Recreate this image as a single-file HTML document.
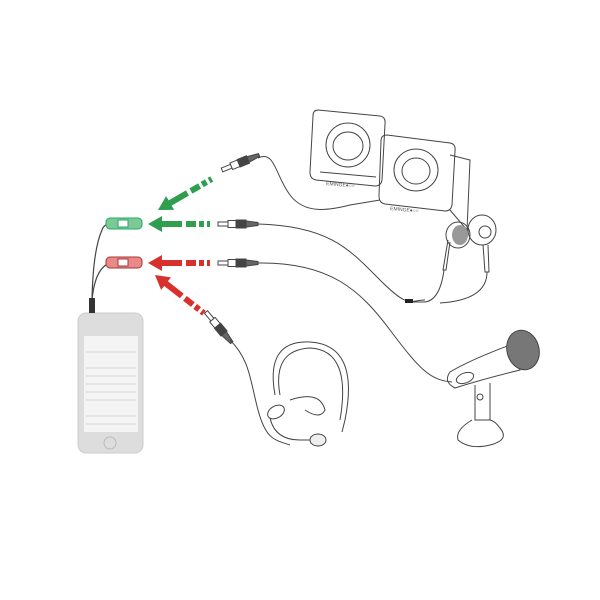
<!DOCTYPE html>
<html><head><meta charset="utf-8"><style>html,body{margin:0;padding:0;background:#fff}svg{display:block}</style></head>
<body>
<svg width="600" height="600" viewBox="0 0 600 600" xmlns="http://www.w3.org/2000/svg" fill="none" stroke="#444" stroke-width="1">
<defs>
<g id="plug"><rect x="0" y="-2" width="10" height="4" fill="#fff"/><rect x="10" y="-3.5" width="8" height="7" fill="#fff"/><rect x="18" y="-4" width="10" height="8" fill="#444"/><path d="M28 -3 L40 -1.5 L40 1.5 L28 3Z" fill="#666"/></g>
</defs>
<!-- phone -->
<rect x="78" y="313" width="65" height="140" rx="8" fill="#ddd" stroke="#ccc"/>
<rect x="84" y="336" width="54" height="96" fill="#f4f4f4" stroke="none"/>
<circle cx="110" cy="443" r="6" fill="none" stroke="#bbb"/>
<g stroke="#ccc" stroke-width="0.8">
<line x1="86" y1="352" x2="136" y2="352"/><line x1="86" y1="368" x2="136" y2="368"/>
<line x1="86" y1="376" x2="136" y2="376"/><line x1="86" y1="384" x2="136" y2="384"/>
<line x1="86" y1="392" x2="136" y2="392"/><line x1="86" y1="400" x2="136" y2="400"/>
<line x1="86" y1="416" x2="136" y2="416"/><line x1="86" y1="424" x2="136" y2="424"/>
</g>
<!-- cables from phone to splitter -->
<path d="M92 313 L92 300 Q93 250 102 230 Q104 224 110 224" stroke-width="1.2"/>
<path d="M92 300 Q95 268 110 263" stroke-width="1.2"/>
<rect x="89" y="298" width="6" height="15" fill="#333" stroke="none"/>
<!-- splitters -->
<rect x="106" y="218" width="36" height="11" rx="4" fill="#7cc896" stroke="#2a6"/>
<rect x="118" y="220" width="10" height="7" fill="#fff" stroke="#2a6"/>
<rect x="106" y="257" width="36" height="11" rx="4" fill="#e88a8a" stroke="#a33"/>
<rect x="118" y="259" width="10" height="7" fill="#fff" stroke="#a33"/>
<!-- arrows -->
<g stroke="none">
<polygon points="148,224 162,216 162,221 182,221 182,227 162,227 162,232" fill="#2f9e4e"/>
<rect x="186" y="221" width="10" height="6" fill="#2f9e4e"/><rect x="199" y="221" width="5" height="6" fill="#2f9e4e"/><rect x="207" y="221" width="3" height="6" fill="#2f9e4e"/>
<polygon points="148,263 162,255 162,260 182,260 182,266 162,266 162,271" fill="#d8302c"/>
<rect x="186" y="260" width="10" height="6" fill="#d8302c"/><rect x="199" y="260" width="5" height="6" fill="#d8302c"/><rect x="207" y="260" width="3" height="6" fill="#d8302c"/>
<g transform="translate(158,210) rotate(-30)"><polygon points="0,0 14,-8 14,-3 34,-3 34,3 14,3 14,8" fill="#2f9e4e"/><rect x="38" y="-3" width="10" height="6" fill="#2f9e4e"/><rect x="51" y="-3" width="5" height="6" fill="#2f9e4e"/><rect x="59" y="-3" width="3" height="6" fill="#2f9e4e"/></g>
<g transform="translate(155,275) rotate(38)"><polygon points="0,0 14,-8 14,-3 34,-3 34,3 14,3 14,8" fill="#d8302c"/><rect x="38" y="-3" width="10" height="6" fill="#d8302c"/><rect x="51" y="-3" width="5" height="6" fill="#d8302c"/><rect x="59" y="-3" width="3" height="6" fill="#d8302c"/></g>
</g>
<!-- plugs -->
<use href="#plug" x="218" y="224"/>
<use href="#plug" x="218" y="263"/>
<use href="#plug" transform="translate(222,170) rotate(-22)"/>
<use href="#plug" transform="translate(206,312) rotate(50)"/>
<!-- cables -->
<path d="M258 224 C330 226 350 250 380 280 S410 300 425 300"/>
<path d="M258 263 C330 262 360 290 390 330 S430 380 452 382"/>
<path d="M258 158 C275 150 275 175 290 195 S330 210 350 205 L380 200"/>
<path d="M230 340 C250 360 250 380 258 410 S275 440 290 445"/>
<!-- speakers -->
<path d="M318 110 L380 116 Q386 117 385 124 L382 180 Q381 186 375 186 L316 180 Q310 179 310 172 L313 116 Q313 110 318 110Z"/>
<path d="M320 172 L376 177"/>
<ellipse cx="348" cy="145" rx="22" ry="22"/><ellipse cx="348" cy="146" rx="15" ry="14"/>
<path d="M387 135 L450 143 Q456 144 455 151 L452 205 Q451 211 445 211 L385 204 Q379 203 379 196 L381 141 Q381 135 387 135Z"/>
<path d="M450 155 L470 160 L467 230 L450 210"/>
<ellipse cx="416" cy="170" rx="22" ry="21"/><ellipse cx="416" cy="171" rx="14" ry="13"/>
<text x="326" y="185" font-family="Liberation Sans" font-size="5" fill="#555" stroke="none" transform="rotate(5 326 185)">EMINGE●○○</text>
<text x="390" y="210" font-family="Liberation Sans" font-size="5" fill="#555" stroke="none" transform="rotate(5 390 210)">EMINGE●○○</text>
<!-- earbuds -->
<ellipse cx="458" cy="235" rx="12" ry="13"/><ellipse cx="460" cy="235" rx="8" ry="10" fill="#999" stroke="none"/>
<ellipse cx="482" cy="230" rx="14" ry="15"/><circle cx="485" cy="232" r="6"/>
<path d="M448 240 L443 270 L446 270 L450 242"/>
<path d="M483 245 L485 272 L489 272 L488 245"/>
<path d="M444 270 Q440 300 425 302 L410 302 M487 272 Q487 300 440 303"/>
<rect x="405" y="299" width="8" height="4" fill="#222" stroke="none"/>
<!-- mic -->
<path d="M450 372 Q470 360 510 345 L520 370 Q480 380 455 388 Q443 382 450 372Z"/>
<ellipse cx="465" cy="378" rx="9" ry="5" transform="rotate(-20 465 378)"/>
<ellipse cx="523" cy="350" rx="16" ry="20" fill="#777" stroke="#444" transform="rotate(-15 523 350)"/>
<path d="M475 385 L475 420 L490 420 L490 383"/>
<circle cx="480" cy="397" r="3"/>
<path d="M472 420 Q455 430 458 440 Q470 450 490 445 Q510 440 500 428 Q495 421 490 420"/>
<!-- headset -->
<path d="M275 395 Q265 340 310 342 Q360 345 345 420 L342 432"/>
<path d="M280 395 Q272 350 310 348 Q352 350 340 420"/>
<ellipse cx="276" cy="412" rx="9" ry="6" transform="rotate(-30 276 412)"/>
<path d="M270 418 Q275 440 300 440 L315 440"/>
<ellipse cx="318" cy="440" rx="8" ry="6" fill="#eee"/>
<path d="M290 400 Q320 390 325 410 Q320 420 305 410"/>
</svg>
</body></html>
